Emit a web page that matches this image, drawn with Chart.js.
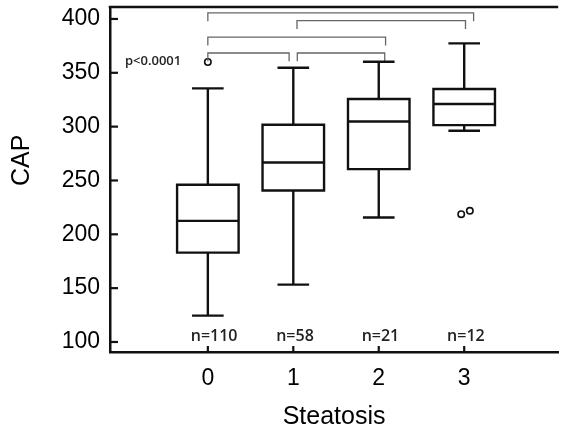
<!DOCTYPE html>
<html><head><meta charset="utf-8">
<script src="https://cdn.jsdelivr.net/npm/chart.js@4/dist/chart.umd.min.js"></script>
<style>html,body{margin:0;padding:0;background:#fff;overflow:hidden}#wrap{width:563px;height:430px;position:relative}</style>
</head><body><div id="wrap"><canvas id="c"></canvas></div>
<script>
// ---- data ----
const categories = ['0', '1', '2', '3'];
const q1 = [183, 240.7, 260.5, 301.4];
const medians = [212.5, 266.7, 304.8, 321];
const q3 = [246, 301.7, 325.6, 335];
const whiskerLow = [124.5, 153.3, 215.6, 296.2];
const whiskerHigh = [335.5, 354.7, 360.3, 377.3];
const outliers = [[360], [], [], [218.7, 221.8]];
const sampleSizes = ['n=110', 'n=58', 'n=21', 'n=12'];
const yTicks = [100, 150, 200, 250, 300, 350, 400];
const comparisons = [[0, 3], [1, 3], [0, 2], [0, 1], [1, 2]];
const bracketLevels = [405.6, 398.4, 383.1, 368.4, 368.4];
const pValueLabel = 'p<0.0001';
const xTitle = 'Steatosis';
const yTitle = 'CAP';

// ---- styling / layout constants ----
const BOX_HALF = 0.36, CAP_HALF = 0.185, DROP = 7.7;
const bracketNudge = [[0, 0.11], [0.043, 0.015], [0, 0.08], [0, -0.049], [0.047, 0.07]];
const outlierJitter = [[0], [], [], [-0.035, 0.066]];
const INK = '#111', GRAY = '#666';
const FONT = "'Liberation Sans', Arial, sans-serif";

const datasets = [];
function seg(points, color, width) {
  datasets.push({data: points, showLine: true, borderColor: color, borderWidth: width,
    pointRadius: 0, pointHoverRadius: 0, fill: false, tension: 0,
    borderCapStyle: 'butt', borderJoinStyle: 'miter'});
}
categories.forEach((c, i) => {
  const x = i;
  seg([{x: x, y: q1[i]}, {x: x - BOX_HALF, y: q1[i]}, {x: x - BOX_HALF, y: q3[i]},
       {x: x + BOX_HALF, y: q3[i]}, {x: x + BOX_HALF, y: q1[i]}, {x: x, y: q1[i]}], INK, 2.4);
  seg([{x: x - BOX_HALF, y: medians[i]}, {x: x + BOX_HALF, y: medians[i]}], INK, 2.4);
  seg([{x: x, y: q3[i]}, {x: x, y: whiskerHigh[i]}], INK, 2.4);
  seg([{x: x - CAP_HALF, y: whiskerHigh[i]}, {x: x + CAP_HALF, y: whiskerHigh[i]}], INK, 2.4);
  seg([{x: x, y: q1[i]}, {x: x, y: whiskerLow[i]}], INK, 2.4);
  seg([{x: x - CAP_HALF, y: whiskerLow[i]}, {x: x + CAP_HALF, y: whiskerLow[i]}], INK, 2.4);
});
comparisons.forEach((pair, k) => {
  const a = pair[0] + bracketNudge[k][0], b = pair[1] + bracketNudge[k][1];
  const top = bracketLevels[k];
  seg([{x: a, y: top - DROP}, {x: a, y: top}, {x: b, y: top}, {x: b, y: top - DROP}], GRAY, 1.3);
});
const outlierPoints = [];
outliers.forEach((vals, i) => vals.forEach((v, j) => outlierPoints.push({x: i + outlierJitter[i][j], y: v})));
datasets.push({data: outlierPoints, showLine: false, pointRadius: 3.2, pointHoverRadius: 3.2,
  pointBorderWidth: 1.6, pointBackgroundColor: '#fff', pointBorderColor: INK, pointStyle: 'circle'});

const decor = {
  id: 'decor',
  afterDraw(chart) {
    const ctx = chart.ctx, a = chart.chartArea, xs = chart.scales.x, ys = chart.scales.y;
    ctx.save();
    ctx.strokeStyle = INK; ctx.lineWidth = 2.5; ctx.lineCap = 'butt';
    ctx.beginPath(); ctx.moveTo(a.left - 1.25, a.top); ctx.lineTo(a.right, a.top); ctx.stroke();
    ctx.lineWidth = 2.2;
    yTicks.forEach(v => { const y = ys.getPixelForValue(v);
      ctx.beginPath(); ctx.moveTo(a.left, y); ctx.lineTo(a.left + 8, y); ctx.stroke(); });
    categories.forEach((c, i) => { const x = xs.getPixelForValue(i);
      ctx.beginPath(); ctx.moveTo(x, a.bottom); ctx.lineTo(x, a.bottom - 6); ctx.stroke(); });
    // sample sizes
    ctx.fillStyle = '#222'; ctx.font = "600 16px 'Open Sans', sans-serif";
    ctx.textAlign = 'left'; ctx.textBaseline = 'middle';
    sampleSizes.forEach((t, i) => ctx.fillText(t, xs.getPixelForValue(i - 0.2), ys.getPixelForValue(105.1)));
    ctx.font = "600 13px 'Open Sans', sans-serif";
    ctx.fillText(pValueLabel, xs.getPixelForValue(-0.97), ys.getPixelForValue(361));
    // y title
    ctx.fillStyle = '#000'; ctx.font = '25px ' + FONT; ctx.textAlign = 'center';
    ctx.translate(22.5, ys.getPixelForValue(268.7)); ctx.rotate(-Math.PI / 2);
    ctx.fillText(yTitle, 0, 0);
    ctx.restore();
  }
};

new Chart(document.getElementById('c'), {
  type: 'scatter',
  data: {datasets},
  options: {
    responsive: true, maintainAspectRatio: false, animation: false,
    layout: {padding: {top: 7, right: 0, bottom: 0, left: 0}},
    plugins: {legend: {display: false}, tooltip: {enabled: false}},
    scales: {
      x: {
        type: 'linear', min: -1.145, max: 4.10,
        afterBuildTicks: s => { s.ticks = categories.map((c, i) => ({value: i})); },
        afterFit: s => { s.height = 78; s.paddingLeft = 0; s.paddingRight = 0; },
        ticks: {callback: (v, idx) => categories[idx], color: '#000', padding: 13,
          font: {family: FONT, size: 23}, maxRotation: 0, autoSkip: false},
        grid: {display: false, drawTicks: false},
        border: {display: true, color: INK, width: 2.5},
        title: {display: true, text: xTitle, color: '#000', font: {family: FONT, size: 25},
          padding: {top: 0, bottom: -2}}
      },
      y: {
        type: 'linear', min: 90.7, max: 411.1,
        afterBuildTicks: s => { s.ticks = yTicks.map(v => ({value: v})); },
        afterFit: s => { s.width = 110; s.paddingTop = 0; s.paddingBottom = 0; },
        ticks: {color: '#000', padding: 10, font: {family: FONT, size: 23}},
        grid: {display: false, drawTicks: false},
        border: {display: true, color: INK, width: 2.5}
      }
    }
  },
  plugins: [decor]
});
</script></body></html>
